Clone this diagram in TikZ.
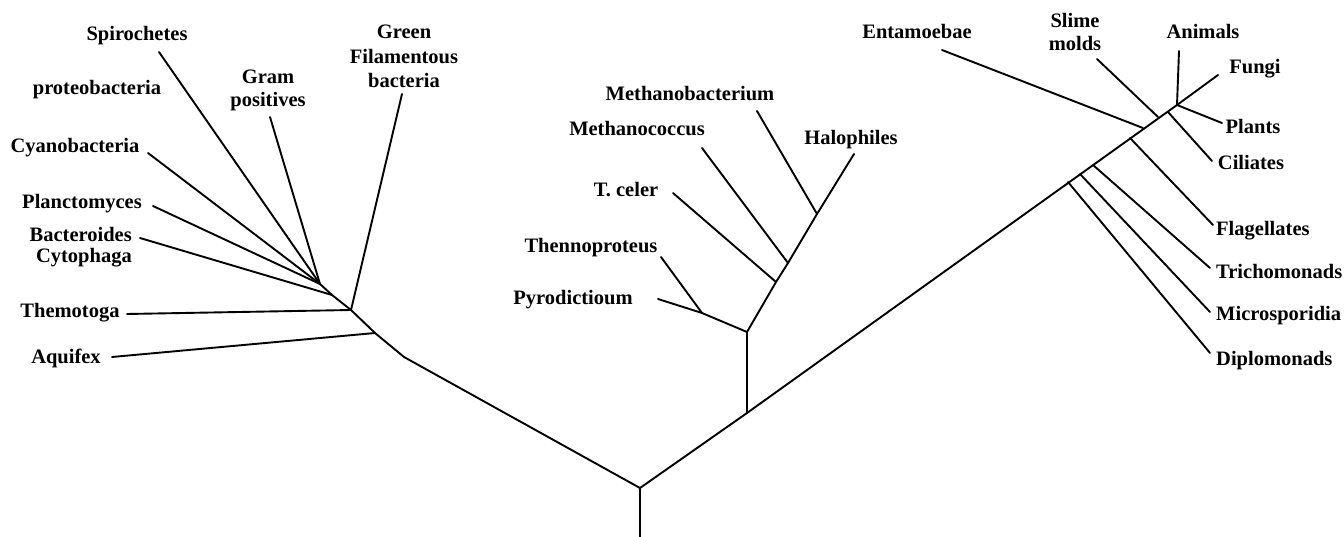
\documentclass[tikz,border=0pt]{standalone}
\usepackage{fontspec}
\setmainfont{Liberation Serif}
\begin{document}
\begin{tikzpicture}[x=1pt,y=-1pt,
  lbl/.style={font=\bfseries\fontsize{20.5}{23}\selectfont, inner sep=0pt},
  br/.style={line width=1.9pt, line cap=round, line join=round}]
\useasboundingbox (0,0) rectangle (1344,537);
% ---------- coordinates ----------
\coordinate (rb) at (640,537);
\coordinate (root) at (640,488);
% bacteria
\coordinate (L1) at (404,357);
\coordinate (aqJ) at (375,333);
\coordinate (thJ) at (351,310);
\coordinate (bcJ) at (332,295);
\coordinate (gpJ) at (320,284);
\coordinate (aqE) at (112,357);
\coordinate (thE) at (127,314);
\coordinate (gfE) at (402,94);
\coordinate (bcE) at (140,238);
\coordinate (gpE) at (270,117);
\coordinate (plE) at (153,206);
\coordinate (cyE) at (148,153);
\coordinate (spE) at (159,52);
% archaea
\coordinate (aJ) at (747,413);
\coordinate (a1) at (747,332);
\coordinate (pyJ) at (702,313);
\coordinate (pyE) at (658,299);
\coordinate (tnE) at (661,257);
\coordinate (tcJ) at (776,282);
\coordinate (tcE) at (673,193);
\coordinate (mcJ) at (788,263);
\coordinate (mcE) at (702,148);
\coordinate (mbJ) at (817,214);
\coordinate (mbE) at (757,111);
\coordinate (haE) at (854,154);
% eukaryotes
\coordinate (crown) at (1177,105);
\coordinate (dpJ) at (1068,182);
\coordinate (dpE) at (1210,353);
\coordinate (msJ) at (1080,174);
\coordinate (msE) at (1210,312);
\coordinate (trJ) at (1093,165);
\coordinate (trE) at (1210,268);
\coordinate (flJ) at (1130,138);
\coordinate (flE) at (1213,225);
\coordinate (enJ) at (1143,128);
\coordinate (enE) at (942,50);
\coordinate (smJ) at (1158,117);
\coordinate (smE) at (1097,59);
\coordinate (ciJ) at (1168,112);
\coordinate (ciE) at (1212,161);
\coordinate (anE) at (1179,51);
\coordinate (fuE) at (1218,75);
\coordinate (ptE) at (1222,123);
% ---------- labels ----------
\node[lbl, anchor=base] (spir) at (137,41) {Spirochetes};
\node[lbl, anchor=base] (prot) at (97,95) {proteobacteria};
\node[lbl, anchor=base] (cyan) at (75,153) {Cyanobacteria};
\node[lbl, anchor=base] (plan) at (82,209) {Planctomyces};
\node[lbl, anchor=east, align=right, font=\bfseries\fontsize{20.5}{21}\selectfont] (bact) at (132,247) {Bacteroides\\Cytophaga};
\node[lbl, anchor=base] (them) at (70,318) {Themotoga};
\node[lbl, anchor=base] (aqui) at (66,363) {Aquifex};
\node[lbl, align=center] (gram) at (268,90) {Gram\\positives};
\node[lbl, align=center, font=\bfseries\fontsize{20.5}{24.5}\selectfont] (gree) at (404,56.5) {Green\\Filamentous\\bacteria};
\node[lbl, anchor=base] (mbac) at (690,101) {Methanobacterium};
\node[lbl, anchor=base] (mcoc) at (637,136) {Methanococcus};
\node[lbl, anchor=base] (halo) at (851,145) {Halophiles};
\node[lbl, anchor=base] (tcel) at (626,197) {T. celer};
\node[lbl, anchor=base] (then) at (591,253) {Thennoproteus};
\node[lbl, anchor=base] (pyro) at (573,305) {Pyrodictioum};
\node[lbl, anchor=base] (enta) at (917,39) {Entamoebae};
\node[lbl, align=center] (slim) at (1075,31.5) {Slime\\molds};
\node[lbl, anchor=base] (anim) at (1203,39) {Animals};
\node[lbl, anchor=base] (fung) at (1255,74) {Fungi};
\node[lbl, anchor=base] (plnt) at (1253,134) {Plants};
\node[lbl, anchor=base] (cili) at (1251,170) {Ciliates};
\node[lbl, anchor=base west] (flag) at (1216,236) {Flagellates};
\node[lbl, anchor=base west] (tric) at (1216,279) {Trichomonads};
\node[lbl, anchor=base west] (micr) at (1216,321) {Microsporidia};
\node[lbl, anchor=base west] (dipl) at (1216,365) {Diplomonads};
% ---------- branches ----------
\draw[br] (rb) -- (root);
\draw[br] (root) -- (L1) -- (aqJ) -- (thJ) -- (bcJ) -- (gpJ);
\draw[br] (aqJ) -- (aqE);
\draw[br] (thJ) -- (thE);
\draw[br] (thJ) -- (gfE);
\draw[br] (bcJ) -- (bcE);
\draw[br] (gpJ) -- (gpE);
\draw[br] (gpJ) -- (plE);
\draw[br] (gpJ) -- (cyE);
\draw[br] (gpJ) -- (spE);
\draw[br] (root) -- (aJ) -- (a1) -- (pyJ) -- (pyE);
\draw[br] (pyJ) -- (tnE);
\draw[br] (a1) -- (tcJ) -- (mcJ) -- (mbJ) -- (haE);
\draw[br] (tcJ) -- (tcE);
\draw[br] (mcJ) -- (mcE);
\draw[br] (mbJ) -- (mbE);
\draw[br] (aJ) -- (crown);
\draw[br] (dpJ) -- (dpE);
\draw[br] (msJ) -- (msE);
\draw[br] (trJ) -- (trE);
\draw[br] (flJ) -- (flE);
\draw[br] (enJ) -- (enE);
\draw[br] (smJ) -- (smE);
\draw[br] (ciJ) -- (ciE);
\draw[br] (crown) -- (anE);
\draw[br] (crown) -- (fuE);
\draw[br] (crown) -- (ptE);
\end{tikzpicture}
\end{document}
